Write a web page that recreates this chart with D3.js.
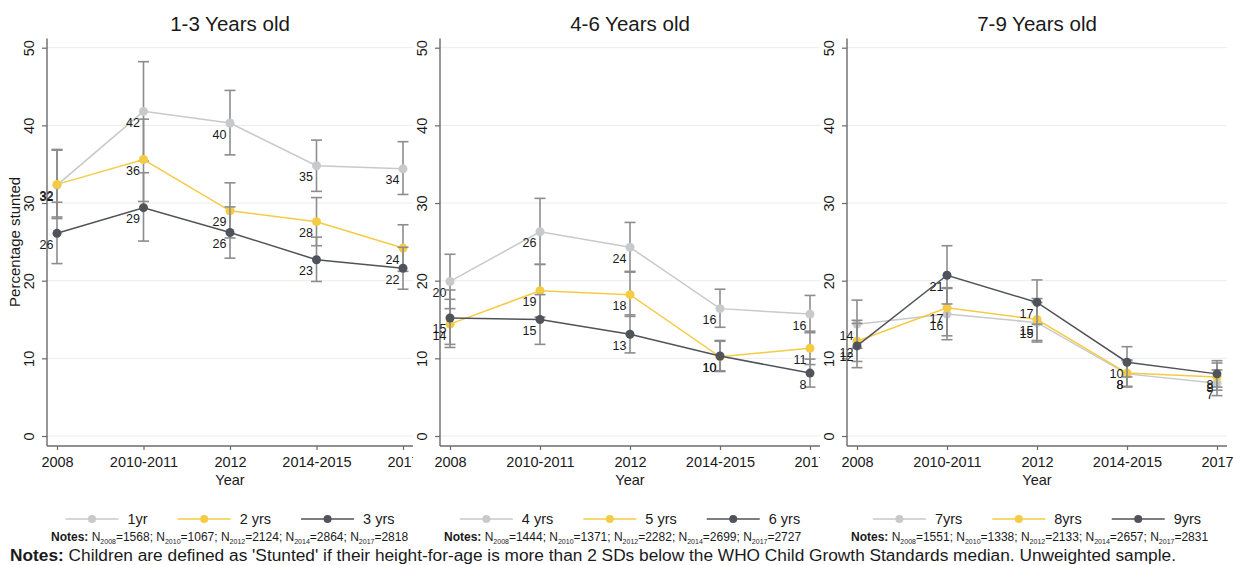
<!DOCTYPE html>
<html>
<head>
<meta charset="utf-8">
<script src="https://cdn.jsdelivr.net/npm/d3@7"></script>
<style>
  body { margin: 0; background: #fff; }
  svg { display: block; font-family: "Liberation Sans", Arial, Helvetica, sans-serif; }
</style>
</head>
<body>
<div id="chart"></div>
<script>
// --- données ---
const years = ["2008", "2010-2011", "2012", "2014-2015", "2017"];
const panelTitles = ["1-3 Years old", "4-6 Years old", "7-9 Years old"];
const seriesNames = [["1yr", "2 yrs", "3 yrs"], ["4 yrs", "5 yrs", "6 yrs"], ["7yrs", "8yrs", "9yrs"]];
const yTicks = [0, 10, 20, 30, 40, 50];

// % stunted (estimate, lower CI, upper CI) per age
const est1 = [32.3, 41.8, 40.3, 34.8, 34.4];
const lo1 = [28.0, 35.4, 36.2, 31.5, 31.1];
const hi1 = [36.9, 48.2, 44.5, 38.1, 37.9];
const est2 = [32.4, 35.6, 29.0, 27.6, 24.2];
const lo2 = [28.2, 30.2, 25.5, 24.5, 21.2];
const hi2 = [36.8, 40.8, 32.6, 30.7, 27.2];
const est3 = [26.1, 29.4, 26.2, 22.7, 21.6];
const lo3 = [22.2, 25.1, 22.9, 19.9, 18.9];
const hi3 = [30.1, 33.9, 29.5, 25.6, 24.3];

const est4 = [19.9, 26.3, 24.3, 16.4, 15.7];
const lo4 = [16.4, 22.1, 21.2, 14.0, 13.3];
const hi4 = [23.4, 30.6, 27.5, 18.9, 18.1];
const est5 = [14.4, 18.7, 18.2, 10.2, 11.3];
const lo5 = [11.4, 15.3, 15.4, 8.3, 9.2];
const hi5 = [17.6, 22.1, 21.1, 12.2, 13.5];
const est6 = [15.2, 15.0, 13.1, 10.3, 8.1];
const lo6 = [11.8, 11.8, 10.7, 8.4, 6.3];
const hi6 = [18.8, 18.2, 15.6, 12.3, 9.9];

const est7 = [14.4, 15.7, 14.6, 8.0, 6.8];
const lo7 = [11.3, 12.4, 12.1, 6.3, 5.2];
const hi7 = [17.5, 19.0, 17.2, 9.7, 8.5];
const est8 = [12.2, 16.5, 15.0, 8.1, 7.6];
const lo8 = [9.6, 12.9, 12.3, 6.4, 5.9];
const hi8 = [14.9, 19.1, 17.7, 9.8, 9.4];
const est9 = [11.6, 20.7, 17.2, 9.5, 8.0];
const lo9 = [8.8, 17.0, 14.4, 7.6, 6.3];
const hi9 = [14.5, 24.5, 20.1, 11.5, 9.7];

const sampleYears = ["2008", "2010", "2012", "2014", "2017"];
const sampleN = [[1568, 1067, 2124, 2864, 2818], [1444, 1371, 2282, 2699, 2727], [1551, 1338, 2133, 2657, 2831]];

const footNote = "Children are defined as 'Stunted' if their height-for-age is more than 2 SDs below the WHO Child Growth Standards median. Unweighted sample.";

// --- configuration ---
const width = 1233;
const height = 565;
const colors = ["#c8c9cb", "#f5cb45", "#505359"];
const barColor = "#8d8d8d";
const textColor = "#1a1a1a";
const axisColor = "#6b6b6b";

// cadre de chaque panneau (zone de tracé + zone de découpe)
const frames = [
  { left: 47, right: 413, clip0: 0, clip1: 413 },
  { left: 440, right: 820, clip0: 413, clip1: 820 },
  { left: 847, right: 1227, clip0: 820, clip1: 1233 }
];
const axisY = 446;

const panels = [
  { series: [[est1, lo1, hi1], [est2, lo2, hi2], [est3, lo3, hi3]] },
  { series: [[est4, lo4, hi4], [est5, lo5, hi5], [est6, lo6, hi6]] },
  { series: [[est7, lo7, hi7], [est8, lo8, hi8], [est9, lo9, hi9]] }
];

const svg = d3.select("#chart").append("svg")
  .attr("width", width)
  .attr("height", height);

svg.append("rect").attr("width", width).attr("height", height).attr("fill", "#fff");

const y = d3.scaleLinear().domain([0, 50]).range([436, 47.7]);

panels.forEach((p, i) => {
  const f = frames[i];
  const x = d3.scalePoint().domain(years).range([f.left + 10, f.right - 10]);
  const cx = (f.left + f.right) / 2;

  svg.append("clipPath").attr("id", "clip" + i)
    .append("rect")
    .attr("x", f.clip0).attr("y", 0)
    .attr("width", f.clip1 - f.clip0).attr("height", 500);

  const g = svg.append("g").attr("clip-path", `url(#clip${i})`);

  // titre
  g.append("text")
    .attr("x", cx).attr("y", 31)
    .attr("text-anchor", "middle")
    .attr("font-size", 20.5)
    .attr("fill", textColor)
    .text(panelTitles[i]);

  // grille
  g.append("g").selectAll("line").data(yTicks).join("line")
    .attr("x1", f.left).attr("x2", f.right)
    .attr("y1", d => y(d)).attr("y2", d => y(d))
    .attr("stroke", "#ececec").attr("stroke-width", 1);

  // axe y
  const ya = g.append("g")
    .attr("transform", `translate(${f.left},0)`)
    .call(d3.axisLeft(y).tickValues(yTicks).tickSize(5).tickFormat(d3.format("d")));
  ya.attr("font-family", null).attr("font-size", 14.5);
  ya.select(".domain").remove();
  ya.selectAll(".tick line").attr("stroke", axisColor).attr("stroke-width", 1.2);
  ya.selectAll(".tick text")
    .attr("x", 0).attr("dy", null)
    .attr("transform", "translate(-13,0) rotate(-90)")
    .attr("text-anchor", "middle")
    .attr("fill", textColor);

  // axe x
  const xa = g.append("g")
    .attr("transform", `translate(0,${axisY})`)
    .call(d3.axisBottom(x).tickSize(4));
  xa.attr("font-family", null).attr("font-size", 14.5);
  xa.select(".domain").remove();
  xa.selectAll(".tick line").attr("stroke", axisColor).attr("stroke-width", 1.2);
  xa.selectAll(".tick text").attr("y", 21).attr("dy", null).attr("fill", textColor);

  g.append("line")
    .attr("x1", f.left).attr("x2", f.left)
    .attr("y1", y(51.2)).attr("y2", axisY)
    .attr("stroke", axisColor).attr("stroke-width", 1.4);
  g.append("line")
    .attr("x1", f.left).attr("x2", f.right)
    .attr("y1", axisY).attr("y2", axisY)
    .attr("stroke", axisColor).attr("stroke-width", 1.4);

  g.append("text")
    .attr("x", cx).attr("y", 485)
    .attr("text-anchor", "middle")
    .attr("font-size", 14.5)
    .attr("fill", textColor)
    .text("Year");

  // séries : barres d'erreur puis ligne + points
  const line = d3.line().x((d, k) => x(years[k])).y(d => y(d));
  p.series.forEach((s, j) => {
    const [est, lo, hi] = s;
    const rows = years.map((yr, k) => ({ yr, est: est[k], lo: lo[k], hi: hi[k] }));

    const bars = g.append("g").attr("stroke", barColor).attr("stroke-width", 1.6).attr("fill", "none");
    bars.selectAll(".v").data(rows).join("line")
      .attr("x1", d => x(d.yr)).attr("x2", d => x(d.yr))
      .attr("y1", d => y(d.lo)).attr("y2", d => y(d.hi));
    bars.selectAll(".capHi").data(rows).join("line").attr("class", "capHi")
      .attr("x1", d => x(d.yr) - 5.5).attr("x2", d => x(d.yr) + 5.5)
      .attr("y1", d => y(d.hi)).attr("y2", d => y(d.hi));
    bars.selectAll(".capLo").data(rows).join("line").attr("class", "capLo")
      .attr("x1", d => x(d.yr) - 5.5).attr("x2", d => x(d.yr) + 5.5)
      .attr("y1", d => y(d.lo)).attr("y2", d => y(d.lo));

    g.append("path")
      .attr("d", line(est))
      .attr("fill", "none")
      .attr("stroke", colors[j])
      .attr("stroke-width", 1.5);

    g.append("g").selectAll("circle").data(rows).join("circle")
      .attr("cx", d => x(d.yr)).attr("cy", d => y(d.est))
      .attr("r", 4.5)
      .attr("fill", colors[j]);

    g.append("g").selectAll("text").data(rows).join("text")
      .attr("x", d => x(d.yr) - 3.5)
      .attr("y", d => y(d.est) + 15.5)
      .attr("text-anchor", "end")
      .attr("font-size", 12.5)
      .attr("fill", textColor)
      .text(d => Math.round(d.est));
  });

  // légende centrée sous le panneau
  const leg = svg.append("g").attr("transform", "translate(0,519)");
  const items = seriesNames[i].map((name, j) => {
    const it = leg.append("g");
    it.append("line").attr("x1", 0).attr("x2", 53).attr("y1", 0).attr("y2", 0)
      .attr("stroke", colors[j]).attr("stroke-width", 1.5);
    it.append("circle").attr("cx", 26.5).attr("cy", 0).attr("r", 4).attr("fill", colors[j]);
    const t = it.append("text").attr("x", 62).attr("y", 5.2)
      .attr("font-size", 14.5).attr("fill", textColor).text(name);
    return { it, w: 62 + t.node().getComputedTextLength() };
  });
  const gap = 30;
  const total = d3.sum(items, d => d.w) + gap * (items.length - 1);
  let pos = cx - total / 2;
  items.forEach(d => {
    d.it.attr("transform", `translate(${pos},0)`);
    pos += d.w + gap;
  });

  // notes sous chaque panneau
  const note = svg.append("text")
    .attr("x", f.left + 4).attr("y", 541)
    .attr("font-size", 12)
    .attr("fill", textColor);
  note.append("tspan").attr("font-weight", "bold").text("Notes: ");
  sampleYears.forEach((yr, k) => {
    note.append("tspan").text("N");
    note.append("tspan").attr("font-size", 7).attr("dy", 2.5).text(yr);
    note.append("tspan").attr("dy", -2.5)
      .text("=" + sampleN[i][k] + (k < sampleYears.length - 1 ? "; " : ""));
  });
});

// titre de l'axe y
svg.append("text")
  .attr("transform", `translate(20,${(y(0) + y(50)) / 2}) rotate(-90)`)
  .attr("text-anchor", "middle")
  .attr("font-size", 15)
  .attr("fill", textColor)
  .text("Percentage stunted");

// note de bas de page
const foot = svg.append("text")
  .attr("x", 10).attr("y", 561)
  .attr("font-size", 16)
  .attr("fill", textColor);
foot.append("tspan").attr("font-weight", "bold").text("Notes:");
foot.append("tspan").text(" " + footNote);
const fw = foot.node().getComputedTextLength();
foot.attr("font-size", 16 * 1167 / fw);
</script>
</body>
</html>
